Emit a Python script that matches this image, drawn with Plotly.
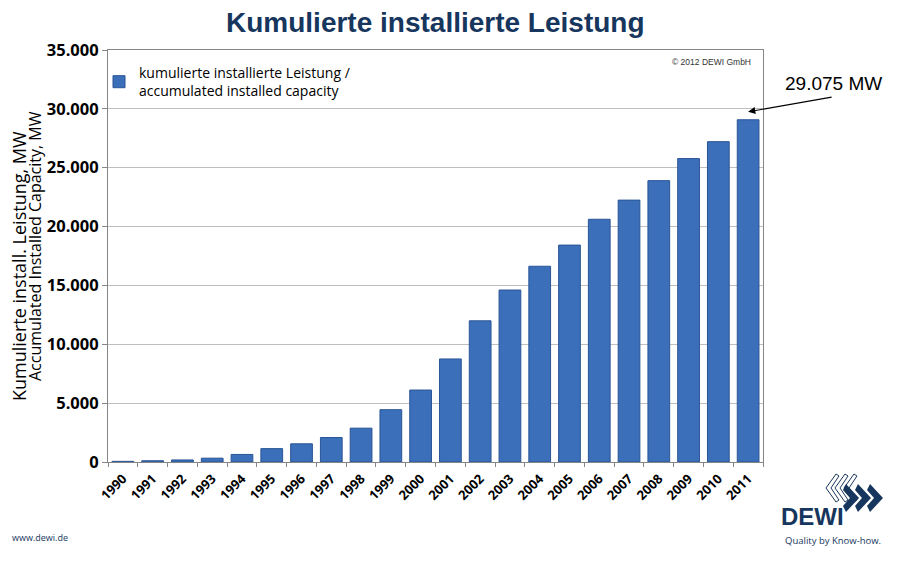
import plotly.graph_objects as go

years = [str(y) for y in range(1990, 2012)]
capacity_mw = [55, 106, 174, 326, 643, 1137, 1546, 2081, 2875, 4444, 6113, 8754,
               11994, 14609, 16629, 18428, 20622, 22247, 23903, 25777, 27214, 29075]
y_tickvals = [0, 5000, 10000, 15000, 20000, 25000, 30000, 35000]
y_ticktext = ["0", "5.000", "10.000", "15.000", "20.000", "25.000", "30.000", "35.000"]

OFF = 8  # page body margin
PW, PH = 905, 562
W, H = PW - OFF, PH - OFF
# plot area in page pixels
PL, PR, PT, PB = 108, 763, 50, 462
L, R, T, B = PL - OFF, PR - OFF, PT - OFF, PB - OFF

fig = go.Figure()
fig.add_trace(go.Bar(
    x=years, y=capacity_mw,
    name="kumulierte installierte Leistung /<br>accumulated installed capacity",
    marker=dict(color="#3B6FBA", line=dict(color="#2A5595", width=1)),
))

navy = "#17365D"

def px(xp, yp):
    """page pixel -> paper coords"""
    return (xp - PL) / (PR - PL), (PB - yp) / (PB - PT)

ann = []
def text_ann(text, xp, yp, size, color="black", family="Open Sans, Liberation Sans", angle=0):
    a, b = px(xp, yp)
    ann.append(dict(text=text, x=a, y=b, xref="paper", yref="paper", showarrow=False,
                    xanchor="center", yanchor="middle", textangle=angle,
                    font=dict(family=family, size=size, color=color)))

text_ann("<b>Kumulierte installierte Leistung</b>", 435, 22, 28, navy, "Liberation Sans, Arial")
text_ann("29.075 MW", 833, 84, 19, "black", "Liberation Sans, Arial")
ann.append(dict(text="", x=len(years) - 1, y=29750, xref="x", yref="y", showarrow=True,
                ax=85, ay=-15, arrowhead=2, arrowsize=1.2, arrowwidth=1.2, arrowcolor="black"))
text_ann("© 2012 DEWI GmbH", 711, 62, 8.5, "#333333", "Liberation Sans, Arial")
text_ann("Kumulierte install. Leistung, MW", 19, 266, 18, "black", angle=-90)
text_ann("Accumulated Installed Capacity, MW", 35, 246, 16, "black", angle=-90)
text_ann("www.dewi.de", 40, 537, 9, navy)
text_ann("<b>DEWI</b>", 812, 516, 24, navy, "Liberation Sans, Arial")
text_ann("Quality by Know-how.", 833, 540, 9.5, navy)

# logo chevrons (decorative)
shapes = []
def pp(xp, yp):
    a, b = px(xp, yp)
    return f"{a:.4f},{b:.4f}"
for dx in [0, 9, 18]:
    xa = 826 + dx
    path = ("M " + pp(xa + 10, 474) + " L " + pp(xa, 488) + " L " + pp(xa + 10, 502) + " L " +
            pp(xa + 13, 500) + " L " + pp(xa + 5, 488) + " L " + pp(xa + 13, 476) + " Z")
    shapes.append(dict(type="path", path=path, xref="paper", yref="paper",
                       line=dict(color=navy, width=1), fillcolor="white"))
for dx in [0, 12, 24]:
    xa = 846 + dx
    path = ("M " + pp(xa, 484) + " L " + pp(xa + 13, 498) + " L " + pp(xa, 512) + " L " +
            pp(xa - 3, 506) + " L " + pp(xa + 4, 498) + " L " + pp(xa - 3, 490) + " Z")
    shapes.append(dict(type="path", path=path, xref="paper", yref="paper",
                       line=dict(color=navy, width=0), fillcolor=navy))

lx, ly = px(99, 57)
fig.update_layout(
    width=W, height=H,
    margin=dict(l=L, r=W - R, t=T, b=H - B, autoexpand=False),
    paper_bgcolor="white", plot_bgcolor="white",
    bargap=0.27,
    showlegend=True,
    legend=dict(x=lx, y=ly, xanchor="left", yanchor="top",
                font=dict(family="Open Sans, Liberation Sans", size=14, color="black"),
                bgcolor="rgba(0,0,0,0)", itemwidth=30),
    annotations=ann,
    shapes=shapes,
    xaxis=dict(type="category", range=[-0.5, len(years) - 0.5], tickangle=-45,
               tickfont=dict(family="Open Sans, Liberation Sans", size=13, color="black", weight="bold"),
               showline=True, linecolor="#868686", mirror=True, linewidth=1,
               ticks="outside", ticklen=4, tickcolor="#868686", tickson="boundaries",
               ticklabelstandoff=3, showgrid=False),
    yaxis=dict(range=[0, 35000], tickvals=y_tickvals, ticktext=y_ticktext,
               tickfont=dict(family="Open Sans, Liberation Sans", size=16.5, color="black", weight="bold"),
               showline=True, linecolor="#868686", mirror=True, linewidth=1,
               ticks="outside", ticklen=5, tickcolor="#868686",
               showgrid=True, gridcolor="#BFBFBF", gridwidth=1, zeroline=False),
)

fig.write_html("out.html")
